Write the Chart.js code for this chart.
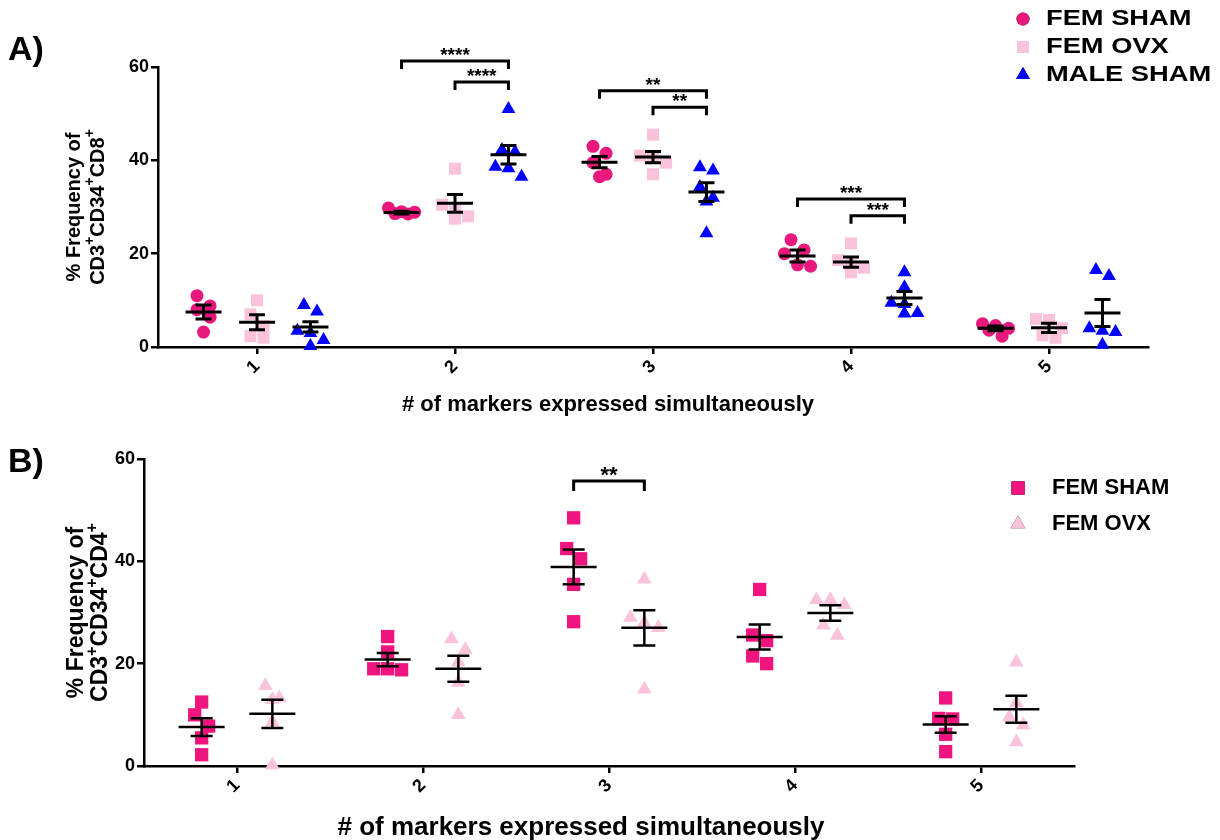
<!DOCTYPE html>
<html>
<head>
<meta charset="utf-8">
<script src="https://cdn.jsdelivr.net/npm/chart.js@4.4.1/dist/chart.umd.min.js"></script>
<style>
    html, body { margin: 0; padding: 0; background: #fff; }
    #wrap { position: relative; width: 1220px; height: 840px; overflow: hidden; }
    .panel { position: absolute; left: 0; width: 1220px; height: 420px; }
    #panelA { top: 0; }
    #panelB { top: 420px; }
</style>
</head>
<body>
<div id="wrap">
    <div class="panel" id="panelA"><canvas id="chartA" width="1220" height="420"></canvas></div>
    <div class="panel" id="panelB"><canvas id="chartB" width="1220" height="420"></canvas></div>
</div>
<script>
const FONT = "'Liberation Sans', Arial, Helvetica, sans-serif";

// общие подписи осей
const categories = ['1', '2', '3', '4', '5'];
const xTitle = '# of markers expressed simultaneously';

// ---- Панель A: CD3+CD34+CD8+ ----
const groupsA = ['FEM SHAM', 'FEM OVX', 'MALE SHAM'];

const shamPtsA = [
    [11, 8.8, 8, 6.4, 3.2],
    [29.8, 29.0, 28.9, 28.6, 28.5],
    [43, 41.5, 39.5, 37, 36.5],
    [23, 20.8, 20, 17.6, 17.3],
    [5, 4.6, 4, 3.6, 2.3]
];
const ovxPtsA = [
    [10, 7, 4.5, 2.3, 2],
    [38.2, 30.5, 29.5, 28, 27.5],
    [45.5, 41, 40.5, 39.5, 37],
    [22.2, 18.6, 17.6, 17, 16],
    [6, 5.8, 4, 2.5, 2]
];
const malePtsA = [
    [9, 7.6, 3.5, 3, 1.5, 0.2],
    [51, 42.2, 41.8, 38.6, 38.3, 36.5],
    [38.5, 37.8, 34.3, 32, 31.2, 24.4],
    [16, 12.8, 9.5, 9.2, 7.3, 7.2],
    [16.5, 15.2, 4, 3.5, 3.2, 0.5]
];

// среднее ± SEM
const shamMeanA = [7.5, 28.8, 39.6, 19.5, 4.0];
const shamSemA  = [1.5, 0.3, 1.2, 1.3, 0.5];
const ovxMeanA  = [5.3, 30.8, 40.7, 18.2, 4.1];
const ovxSemA   = [1.6, 1.9, 1.2, 1.1, 1.0];
const maleMeanA = [4.3, 41.2, 33.2, 10.5, 7.3];
const maleSemA  = [1.1, 2.0, 2.0, 1.4, 2.9];

// [категория, группа 1, группа 2, уровень скобки, звёзды]
const sigA = [
    [2, 0, 2, 61.3, '****'],
    [2, 1, 2, 56.8, '****'],
    [3, 0, 2, 54.9, '**'],
    [3, 1, 2, 51.4, '**'],
    [4, 0, 2, 31.7, '***'],
    [4, 1, 2, 28.1, '***']
];

// ---- Панель B: CD3+CD34+CD4+ ----
const groupsB = ['FEM SHAM', 'FEM OVX'];

const shamPtsB = [
    [12.5, 10, 7.8, 5.5, 2.2],
    [25.3, 22.3, 19, 18.8, 19],
    [48.5, 42.5, 40.5, 35.5, 28.2],
    [34.5, 25.6, 24.5, 21.5, 20],
    [13.3, 9.3, 9.2, 6.2, 2.8]
];
const ovxPtsB = [
    [15.7, 13.3, 13, 8.6, 0.2],
    [24.8, 22.7, 20.3, 16.3, 10],
    [36.5, 29, 28, 27, 15],
    [32.5, 32.5, 31.5, 27.5, 25.5],
    [20.3, 12.3, 9.6, 8, 4.7]
];

const shamMeanB = [7.6, 20.8, 38.9, 25.2, 8.1];
const shamSemB  = [1.75, 1.3, 3.4, 2.45, 1.6];
const ovxMeanB  = [10.2, 19.0, 27.0, 29.9, 11.1];
const ovxSemB   = [2.75, 2.55, 3.45, 1.5, 2.65];

const sigB = [
    [3, 0, 1, 55.7, '**']
];

// Раскладка точек "роем": близкие значения ставим в ряд по горизонтали
function swarm(vals, center, dx, dy) {
    const idx = vals.map((v, i) => i).sort((a, b) => vals[b] - vals[a]);
    const rows = [];
    idx.forEach(i => {
        const row = rows[rows.length - 1];
        if (row && row.length < 3 && vals[row[0]] - vals[i] < dy) row.push(i);
        else rows.push([i]);
    });
    const pts = [];
    rows.forEach(row => row.forEach((i, j) => {
        pts.push({ x: center + (j - (row.length - 1) / 2) * dx, y: vals[i] });
    }));
    return pts;
}

function buildDataset(label, ptsByCat, offset, style, dx, dy) {
    const data = [];
    ptsByCat.forEach((vals, ci) => data.push(...swarm(vals, ci + 1 + offset, dx, dy)));
    return {
        label: label,
        data: data,
        pointStyle: style.shape,
        pointRadius: style.radius,
        pointHoverRadius: style.radius,
        backgroundColor: style.color,
        borderWidth: 0,
        showLine: false,
        clip: false
    };
}

// Подпись оси Y: всё "+" рисуем верхним индексом
function drawSupText(ctx, text, cx, cy, size) {
    const parts = text.split(/(\+)/).filter(s => s.length);
    const big = 'bold ' + size + 'px ' + FONT;
    const small = 'bold ' + Math.round(size * 0.7) + 'px ' + FONT;
    let total = 0;
    parts.forEach(p => { ctx.font = p === '+' ? small : big; total += ctx.measureText(p).width; });
    let px = cx - total / 2;
    parts.forEach(p => {
        ctx.font = p === '+' ? small : big;
        ctx.fillText(p, px, p === '+' ? cy - size * 0.38 : cy);
        px += ctx.measureText(p).width;
    });
}

// Плагин: среднее/SEM, скобки значимости, легенда, заголовки
function makeDecor(spec) {
    return {
        id: 'panelDecor',
        afterDatasetsDraw(chart) {
            const ctx = chart.ctx;
            const x = chart.scales.x, y = chart.scales.y;
            const area = chart.chartArea;
            ctx.save();
            ctx.strokeStyle = '#000';
            ctx.fillStyle = '#000';
            ctx.lineCap = 'butt';
            ctx.lineJoin = 'miter';

            // среднее ± SEM
            ctx.lineWidth = spec.barWidth;
            spec.stats.forEach((g, gi) => {
                g.mean.forEach((m, ci) => {
                    const cx = x.getPixelForValue(ci + 1 + spec.offsets[gi]);
                    const ym = y.getPixelForValue(m);
                    const yt = y.getPixelForValue(m + g.sem[ci]);
                    const yb = y.getPixelForValue(m - g.sem[ci]);
                    ctx.beginPath();
                    ctx.moveTo(cx - spec.meanHalf, ym); ctx.lineTo(cx + spec.meanHalf, ym);
                    ctx.moveTo(cx, yt); ctx.lineTo(cx, yb);
                    ctx.moveTo(cx - spec.capHalf, yt); ctx.lineTo(cx + spec.capHalf, yt);
                    ctx.moveTo(cx - spec.capHalf, yb); ctx.lineTo(cx + spec.capHalf, yb);
                    ctx.stroke();
                });
            });

            // скобки значимости
            ctx.lineWidth = spec.bracketWidth;
            ctx.textAlign = 'center';
            ctx.textBaseline = 'alphabetic';
            spec.sig.forEach(([cat, g1, g2, level, stars]) => {
                const x1 = x.getPixelForValue(cat + spec.offsets[g1]);
                const x2 = x.getPixelForValue(cat + spec.offsets[g2]);
                const yl = y.getPixelForValue(level);
                ctx.beginPath();
                ctx.moveTo(x1, yl + spec.drop);
                ctx.lineTo(x1, yl);
                ctx.lineTo(x2, yl);
                ctx.lineTo(x2, yl + spec.drop);
                ctx.stroke();
                ctx.font = 'bold ' + spec.starSize + 'px ' + FONT;
                ctx.fillText(stars, (x1 + x2) / 2, yl + spec.starDy);
            });

            // буква панели
            ctx.textAlign = 'left';
            ctx.font = 'bold ' + spec.letterSize + 'px ' + FONT;
            ctx.fillText(spec.letter, spec.letterX, spec.letterY);

            // заголовок оси X
            ctx.textAlign = 'center';
            ctx.textBaseline = 'middle';
            ctx.font = 'bold ' + spec.xTitleSize + 'px ' + FONT;
            ctx.fillText(xTitle, spec.xTitleX, spec.xTitleY);

            // заголовок оси Y, две строки
            const midY = (area.top + area.bottom) / 2;
            ctx.save();
            ctx.translate(spec.yTitleX1, midY);
            ctx.rotate(-Math.PI / 2);
            ctx.textAlign = 'center';
            ctx.font = 'bold ' + spec.yTitleSize + 'px ' + FONT;
            ctx.fillText('% Frequency of', 0, 0);
            ctx.restore();
            ctx.save();
            ctx.translate(spec.yTitleX2, midY);
            ctx.rotate(-Math.PI / 2);
            ctx.textAlign = 'left';
            drawSupText(ctx, spec.yTitle, 0, 0, spec.yTitleSize);
            ctx.restore();

            // легенда (текст можно растянуть по горизонтали)
            ctx.textAlign = 'left';
            ctx.textBaseline = 'middle';
            ctx.font = 'bold ' + spec.legendSize + 'px ' + FONT;
            chart.data.datasets.forEach((ds, i) => {
                const ly = spec.legendY + i * spec.legendGap;
                Chart.helpers.drawPoint(ctx, {
                    pointStyle: ds.pointStyle,
                    radius: ds.pointRadius,
                    rotation: 0,
                    borderWidth: 0
                }, spec.legendX, ly);
                ctx.fillStyle = ds.backgroundColor;
                ctx.fill();
                ctx.fillStyle = '#000';
                ctx.save();
                ctx.translate(spec.legendTextX, ly);
                ctx.scale(spec.legendStretch, 1);
                ctx.fillText(ds.label, 0, 0);
                ctx.restore();
            });
            ctx.restore();
        }
    };
}

function makeChart(canvasId, datasets, spec) {
    const tickFont = { family: FONT, size: spec.tickSize, weight: 'bold' };
    return new Chart(document.getElementById(canvasId), {
        type: 'scatter',
        data: { datasets: datasets },
        options: {
            responsive: false,
            animation: false,
            events: [],
            layout: { padding: { top: spec.area.top, right: 1220 - spec.area.right, left: 0, bottom: 0 } },
            plugins: { legend: { display: false }, tooltip: { enabled: false } },
            scales: {
                x: {
                    type: 'linear',
                    min: 0.5,
                    max: 5.5,
                    afterBuildTicks: s => { s.ticks = categories.map((c, i) => ({ value: i + 1 })); },
                    afterFit: s => { s.height = 420 - spec.area.bottom; },
                    ticks: {
                        callback: v => categories[v - 1],
                        color: '#000',
                        font: tickFont,
                        minRotation: 45,
                        maxRotation: 45,
                        padding: 2
                    },
                    grid: { display: true, drawOnChartArea: false, drawTicks: true, tickLength: 7, color: '#000', lineWidth: spec.axisWidth },
                    border: { display: true, color: '#000', width: spec.axisWidth }
                },
                y: {
                    min: 0,
                    max: 60,
                    afterFit: s => { s.width = spec.area.left; },
                    ticks: { stepSize: 20, color: '#000', font: tickFont, padding: 2 },
                    grid: { display: true, drawOnChartArea: false, drawTicks: true, tickLength: 7, color: '#000', lineWidth: spec.axisWidth },
                    border: { display: true, color: '#000', width: spec.axisWidth }
                }
            }
        },
        plugins: [makeDecor(spec)]
    });
}

// ---- рисуем панель A ----
const offsetsA = [-0.27, 0, 0.27];
const dxA = 0.066, dyA = 2.8;
const datasetsA = [
    buildDataset(groupsA[0], shamPtsA, offsetsA[0], { shape: 'circle', radius: 6.5, color: '#e8187c' }, dxA, dyA),
    buildDataset(groupsA[1], ovxPtsA, offsetsA[1], { shape: 'rect', radius: 8.5, color: '#fbc2dc' }, dxA, dyA),
    buildDataset(groupsA[2], malePtsA, offsetsA[2], { shape: 'triangle', radius: 8, color: '#0000ff' }, dxA, dyA)
];
makeChart('chartA', datasetsA, {
    area: { left: 158, right: 1148, top: 67, bottom: 347 },
    offsets: offsetsA,
    stats: [
        { mean: shamMeanA, sem: shamSemA },
        { mean: ovxMeanA, sem: ovxSemA },
        { mean: maleMeanA, sem: maleSemA }
    ],
    sig: sigA,
    tickSize: 18,
    axisWidth: 2.5,
    barWidth: 3,
    meanHalf: 18,
    capHalf: 8,
    bracketWidth: 3,
    drop: 8,
    starSize: 19,
    starDy: 0,
    letter: 'A)', letterSize: 34, letterX: 8, letterY: 60,
    xTitleSize: 22, xTitleX: 608, xTitleY: 405,
    yTitle: 'CD3+CD34+CD8+', yTitleSize: 20, yTitleX1: 74, yTitleX2: 98,
    legendSize: 22, legendStretch: 1.24, legendX: 1023, legendTextX: 1046, legendY: 19, legendGap: 28
});

// ---- рисуем панель B ----
const offsetsB = [-0.19, 0.19];
const dxB = 0.075, dyB = 2.5;
const datasetsB = [
    buildDataset(groupsB[0], shamPtsB, offsetsB[0], { shape: 'rect', radius: 9.4, color: '#f0147f' }, dxB, dyB),
    buildDataset(groupsB[1], ovxPtsB, offsetsB[1], { shape: 'triangle', radius: 8.5, color: '#fbc2dc' }, dxB, dyB)
];
makeChart('chartB', datasetsB, {
    area: { left: 144, right: 1074, top: 39, bottom: 346 },
    offsets: offsetsB,
    stats: [
        { mean: shamMeanB, sem: shamSemB },
        { mean: ovxMeanB, sem: ovxSemB }
    ],
    sig: sigB,
    tickSize: 18,
    axisWidth: 2.5,
    barWidth: 2.5,
    meanHalf: 23,
    capHalf: 11,
    bracketWidth: 3,
    drop: 10,
    starSize: 22,
    starDy: 1,
    letter: 'B)', letterSize: 34, letterX: 8, letterY: 52,
    xTitleSize: 26, xTitleX: 581, xTitleY: 408,
    yTitle: 'CD3+CD34+CD4+', yTitleSize: 23, yTitleX1: 77, yTitleX2: 101,
    legendSize: 22, legendStretch: 1, legendX: 1018, legendTextX: 1052, legendY: 68, legendGap: 36
});
</script>
</body>
</html>
